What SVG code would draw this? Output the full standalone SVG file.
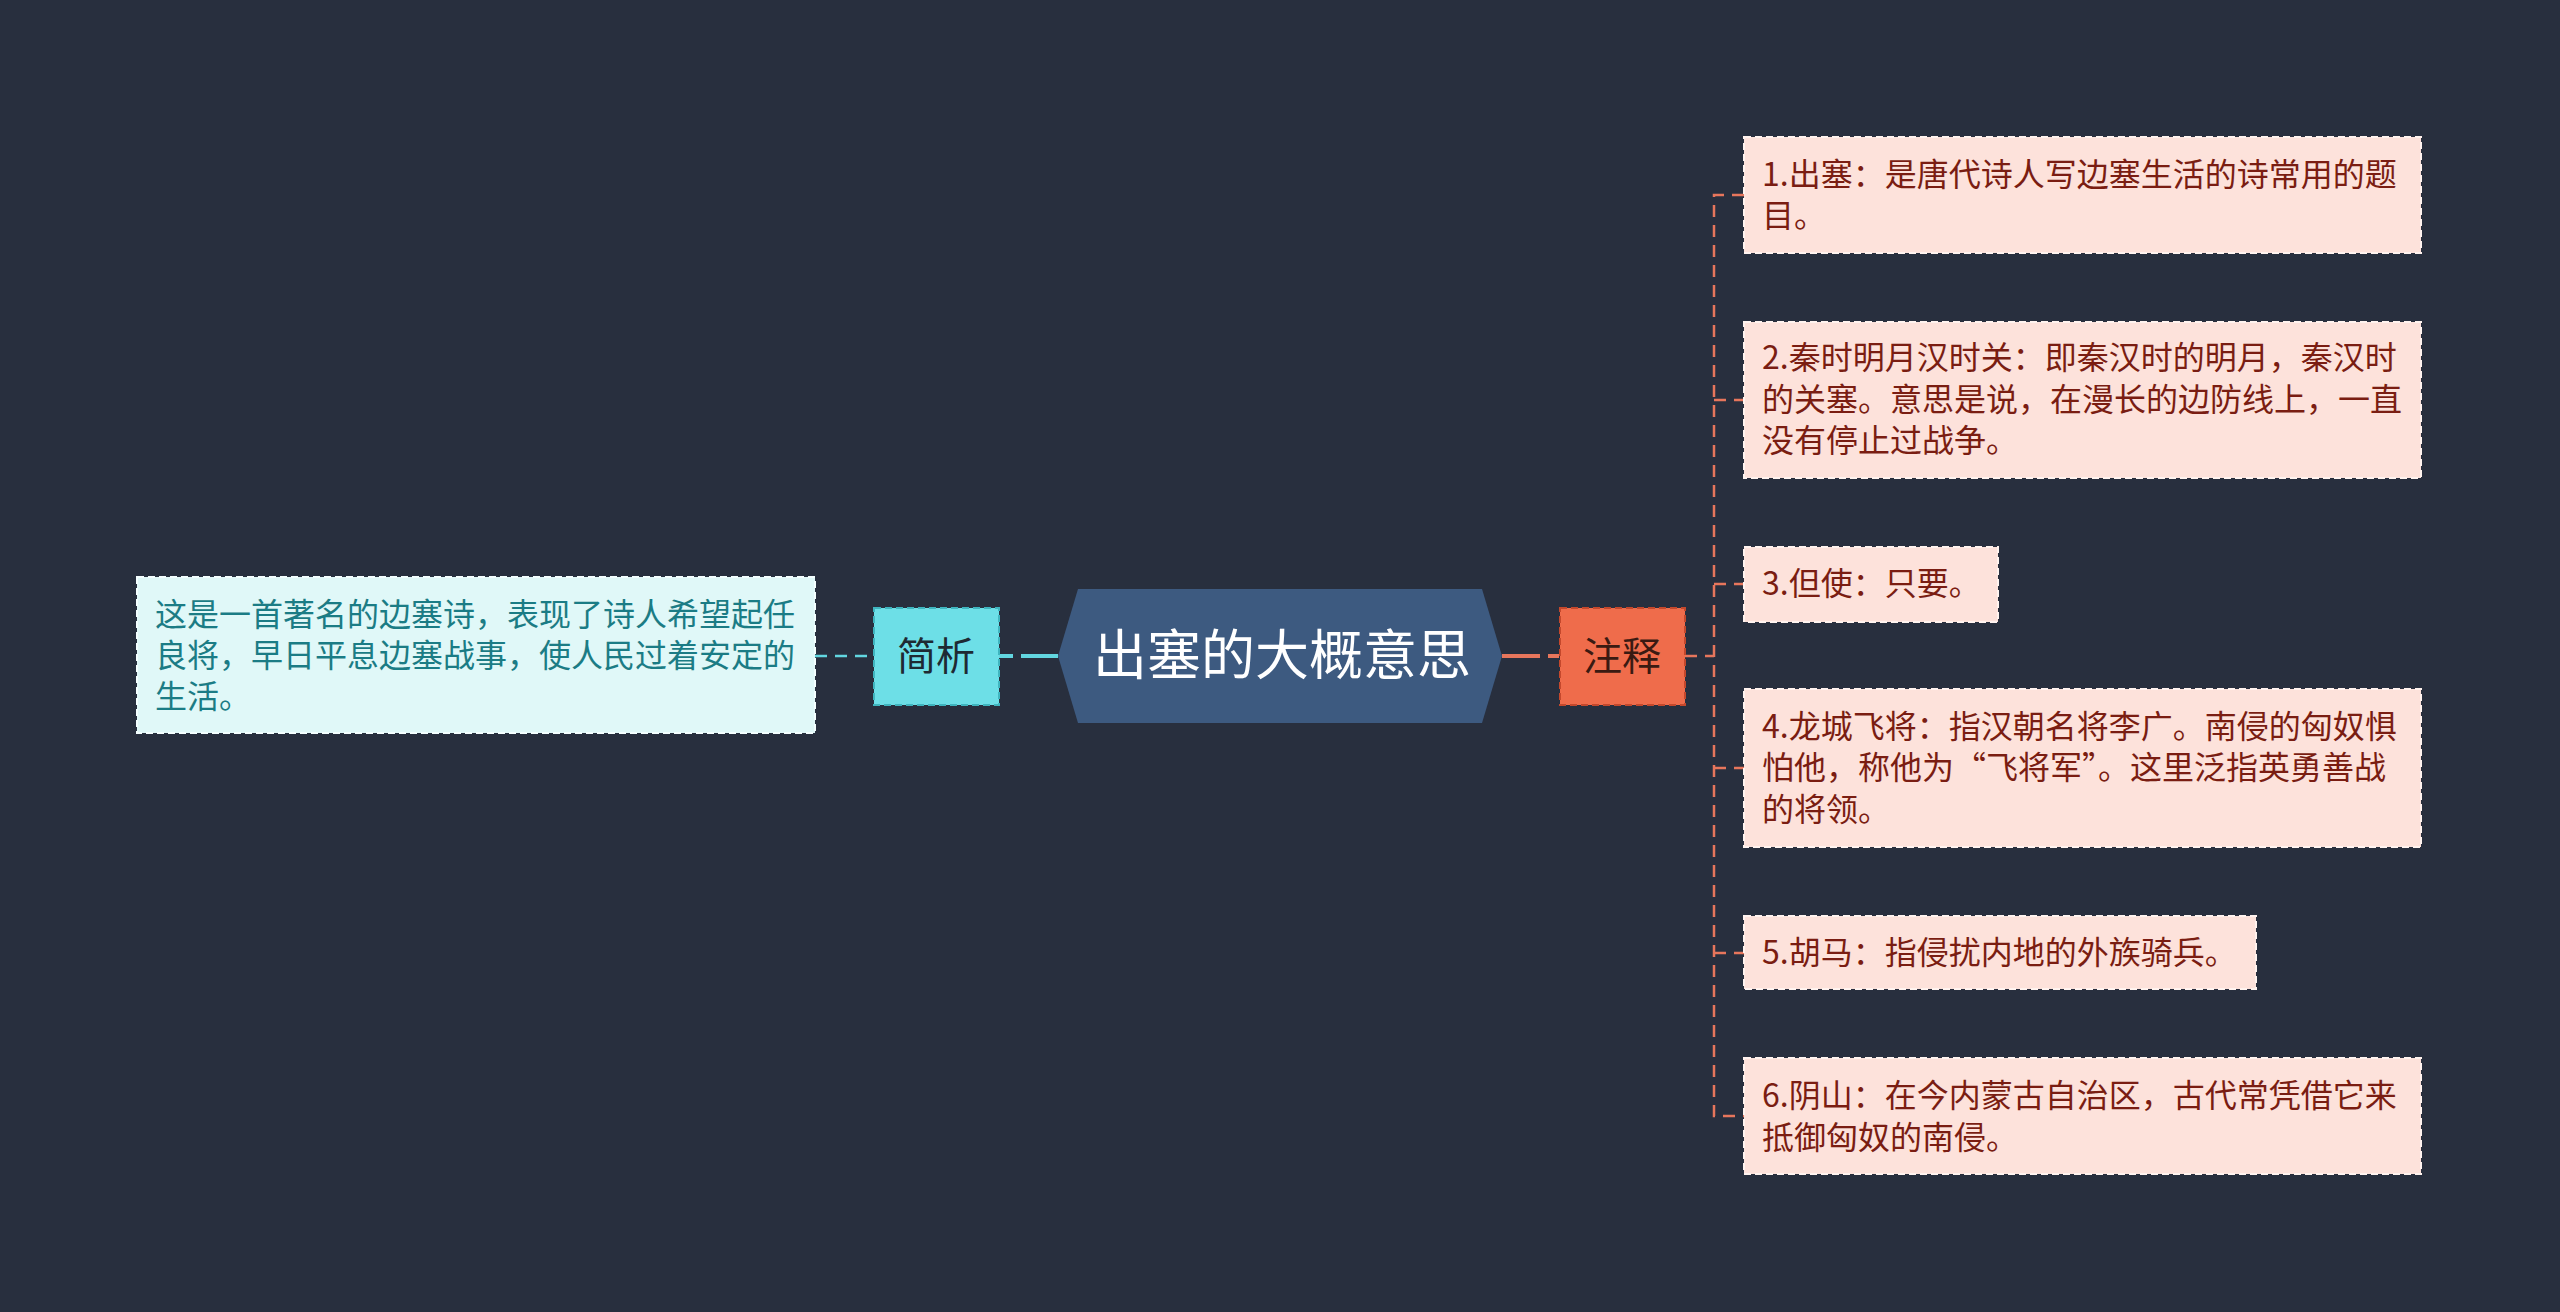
<svg xmlns="http://www.w3.org/2000/svg" width="2560" height="1312" viewBox="0 0 2560 1312">
<style>
text{font-family:"Noto Sans CJK SC","Noto Sans",sans-serif}
.leaf{fill:#fde2db;stroke:#fff3ef;stroke-width:2;stroke-dasharray:7 4}
.lt{fill:#7a1d12;font-size:32px}
.conn{fill:none;stroke:#e7765c;stroke-width:2.5;stroke-dasharray:12 8}
</style>
<rect width="2560" height="1312" fill="#282f3e"/>
<g id="connectors">
<path d="M999 656 H1058" stroke="#62d6e0" stroke-width="4" stroke-dasharray="14 8 40"/>
<path d="M815 656 H873" stroke="#62d6e0" stroke-width="2.5" stroke-dasharray="12 8" fill="none"/>
<path d="M1502 656 H1559" stroke="#e7765c" stroke-width="4" stroke-dasharray="38 8 12"/>
<path class="conn" d="M1685 656 H1714"/>
<path class="conn" d="M1744 195 H1714 V1116 H1744"/>
<path class="conn" d="M1714 400 H1744"/>
<path class="conn" d="M1714 584 H1744"/>
<path class="conn" d="M1714 768 H1744"/>
<path class="conn" d="M1714 953 H1744"/>
</g>
<g id="root">
<polygon points="1058,656 1078,589 1482,589 1502,656 1482,723 1078,723" fill="#3d5a80"/>
<text x="1282" y="675" font-size="54" fill="#ffffff" text-anchor="middle">出塞的大概意思</text>
</g>
<g id="jianxi">
<rect x="874" y="608" width="125" height="97" fill="#6ddfe7" stroke="#3fb5bf" stroke-width="2" stroke-dasharray="7 4"/>
<text x="936" y="670" font-size="39" fill="#1e2a33" text-anchor="middle">简析</text>
</g>
<g id="zhushi">
<rect x="1560" y="608" width="125" height="97" fill="#ef6c4b" stroke="#c4482c" stroke-width="2" stroke-dasharray="7 4"/>
<text x="1622" y="670" font-size="39" fill="#3a1a12" text-anchor="middle">注释</text>
</g>
<g id="analysis">
<rect x="137" y="577" width="678" height="156" fill="#e0f8f8" stroke="#f4ffff" stroke-width="2" stroke-dasharray="7 4"/>
<text fill="#1b7c85" font-size="32"><tspan x="155" y="626">这是一首著名的边塞诗，表现了诗人希望起任</tspan><tspan x="155" y="667">良将，早日平息边塞战事，使人民过着安定的</tspan><tspan x="155" y="708">生活。</tspan></text>
</g>
<g id="note1">
<rect class="leaf" x="1744" y="137" width="677" height="116"/>
<text class="lt"><tspan x="1762" y="186">1.出塞：是唐代诗人写边塞生活的诗常用的题</tspan><tspan x="1762" y="227">目。</tspan></text>
</g>
<g id="note2">
<rect class="leaf" x="1744" y="322" width="677" height="156"/>
<text class="lt"><tspan x="1762" y="369">2.秦时明月汉时关：即秦汉时的明月，秦汉时</tspan><tspan x="1762" y="411">的关塞。意思是说，在漫长的边防线上，一直</tspan><tspan x="1762" y="452">没有停止过战争。</tspan></text>
</g>
<g id="note3">
<rect class="leaf" x="1744" y="547" width="254" height="75"/>
<text class="lt"><tspan x="1762" y="595">3.但使：只要。</tspan></text>
</g>
<g id="note4">
<rect class="leaf" x="1744" y="689" width="677" height="158"/>
<text class="lt"><tspan x="1762" y="738">4.龙城飞将：指汉朝名将李广。南侵的匈奴惧</tspan><tspan x="1762" y="779">怕他，称他为“飞将军”。这里泛指英勇善战</tspan><tspan x="1762" y="821">的将领。</tspan></text>
</g>
<g id="note5">
<rect class="leaf" x="1744" y="916" width="512" height="73"/>
<text class="lt"><tspan x="1762" y="964">5.胡马：指侵扰内地的外族骑兵。</tspan></text>
</g>
<g id="note6">
<rect class="leaf" x="1744" y="1058" width="677" height="116"/>
<text class="lt"><tspan x="1762" y="1107">6.阴山：在今内蒙古自治区，古代常凭借它来</tspan><tspan x="1762" y="1149">抵御匈奴的南侵。</tspan></text>
</g>
</svg>
